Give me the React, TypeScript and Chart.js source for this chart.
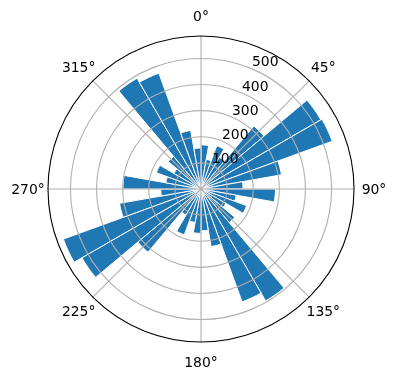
import { useEffect, useRef } from "react";
import { Chart, registerables } from "chart.js";

Chart.register(...registerables);

// Direction bins (start of each 10° sector, clockwise from north)
const binStarts = [
  0, 10, 20, 30, 40, 50, 60, 70, 80,
  90, 100, 110, 120, 130, 140, 150, 160, 170,
  180, 190, 200, 210, 220, 230, 240, 250, 260,
  270, 280, 290, 300, 310, 320, 330, 340, 350,
];
const counts = [
  169, 115, 176, 140, 315, 530, 535, 313, 161,
  285, 137, 186, 110, 168, 495, 460, 224, 160,
  170, 130, 187, 115, 316, 527, 561, 317, 154,
  299, 137, 182, 120, 163, 490, 472, 228, 157,
];
const radialTicks = [100, 200, 300, 400, 500];
const angleTicks = [0, 45, 90, 135, 180, 225, 270, 315];
const angleTickLabels = ["0°", "45°", "90°", "135°", "180°", "225°", "270°", "315°"];
const rMax = 586;
const barColor = "#1f77b4";

const FONT = '13.9px "DejaVu Sans", sans-serif';

const overlay = {
  id: "polarOverlay",
  afterDatasetsDraw(chart: any) {
    const s = chart.scales.r;
    const cx = s.xCenter;
    const cy = s.yCenter;
    const R = s.drawingArea;
    const ctx = chart.ctx;
    ctx.save();
    // grid circles
    ctx.strokeStyle = "#b0b0b0";
    ctx.lineWidth = 1.1;
    radialTicks.forEach((v) => {
      const r = s.getDistanceFromCenterForValue(v);
      ctx.beginPath();
      ctx.arc(cx, cy, r, 0, Math.PI * 2);
      ctx.stroke();
    });
    // angular grid lines
    angleTicks.forEach((a) => {
      const t = (a * Math.PI) / 180;
      ctx.beginPath();
      ctx.moveTo(cx, cy);
      ctx.lineTo(cx + R * Math.sin(t), cy - R * Math.cos(t));
      ctx.stroke();
    });
    // outer spine
    ctx.strokeStyle = "#000000";
    ctx.lineWidth = 1.1;
    ctx.beginPath();
    ctx.arc(cx, cy, R, 0, Math.PI * 2);
    ctx.stroke();

    ctx.fillStyle = "#000000";
    ctx.font = FONT;
    // radial tick labels along 22.5°
    const lt = (22.5 * Math.PI) / 180;
    ctx.textAlign = "left";
    ctx.textBaseline = "alphabetic";
    radialTicks.forEach((v) => {
      const r = s.getDistanceFromCenterForValue(v);
      const x = cx + r * Math.sin(lt);
      const y = cy - r * Math.cos(lt);
      ctx.fillText(String(v), x + 1, y - 2);
    });
    // angular labels
    ctx.textAlign = "center";
    angleTicks.forEach((a, i) => {
      const t = (a * Math.PI) / 180;
      const rr = R + 20;
      const x = cx + rr * Math.sin(t);
      const y = cy - rr * Math.cos(t);
      ctx.fillText(angleTickLabels[i], x, y + 5);
    });
    ctx.restore();
  },
};

export default function App() {
  const ref = useRef<HTMLCanvasElement | null>(null);
  useEffect(() => {
    if (!ref.current) return;
    const chart = new Chart(ref.current, {
      type: "polarArea",
      data: {
        labels: binStarts.map((d) => `${d}°`),
        datasets: [
          {
            data: counts,
            backgroundColor: barColor,
            borderColor: "#ffffff",
            borderWidth: 1,
          },
        ],
      },
      options: {
        responsive: false,
        animation: false,
        devicePixelRatio: 1,
        layout: { padding: { left: 48, top: 36, right: 42, bottom: 38 } },
        plugins: {
          legend: { display: false },
          tooltip: { enabled: false },
        },
        scales: {
          r: {
            min: 0,
            max: rMax,
            startAngle: 0,
            ticks: { display: false, stepSize: 100 },
            grid: { display: false },
            angleLines: { display: false },
            pointLabels: { display: false },
          },
        },
      },
      plugins: [overlay],
    });
    return () => chart.destroy();
  }, []);
  return (
    <div style={{ position: "absolute", left: 0, top: 0, width: 396, height: 380, background: "#fff" }}>
      <canvas ref={ref} width={396} height={380} />
    </div>
  );
}
